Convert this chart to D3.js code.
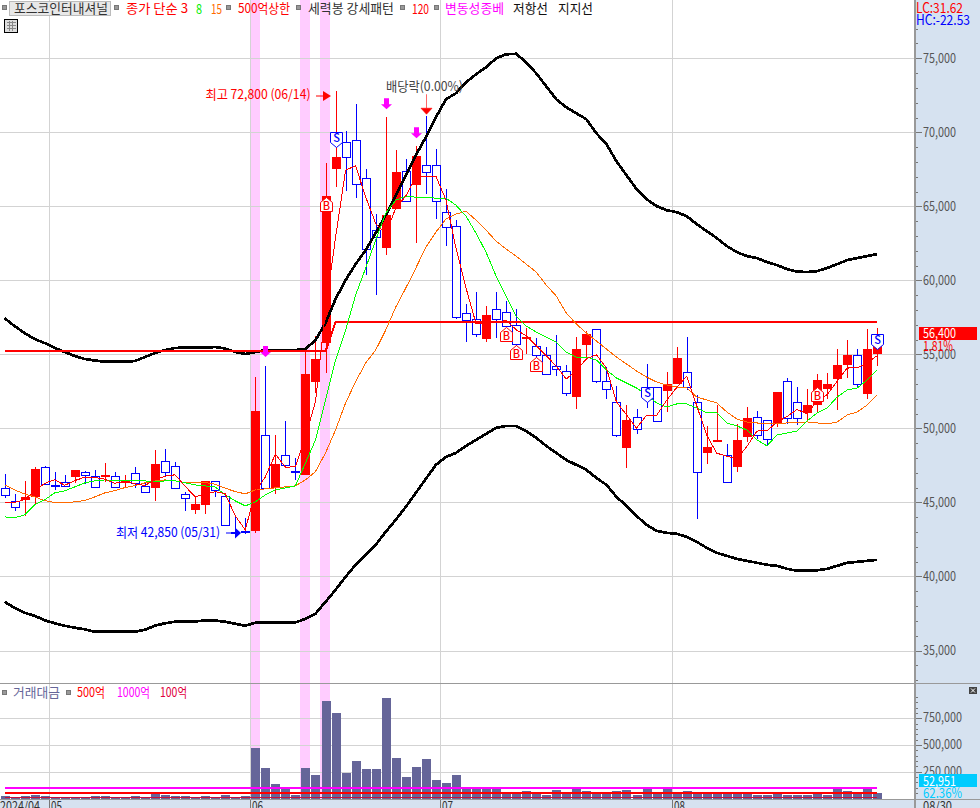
<!DOCTYPE html>
<html>
<head>
<meta charset="utf-8">
<script src="https://cdn.jsdelivr.net/npm/d3@7"></script>
<style>
html,body{margin:0;padding:0;background:#fff;overflow:hidden}
svg{display:block}
text{font-family:"Noto Sans CJK KR","Liberation Sans",sans-serif}
</style>
</head>
<body>
<svg id="c" width="980" height="808"></svg>
<script>
const opens=[45960,45090,45170,45360,47380,46190,46410,46750,47080,46810,46750,46810,46340,47020,46100,46000,47820,47450,45580,44500,44860,46440,45420,43000,43050,43040,49540,45960,48190,47100,46860,53160,55750,67530,69350,69450,66900,63370,62180,64810,67380,66450,67760,67760,64590,63660,57770,57370,56040,58040,57840,56960,56060,55550,54940,54200,53860,52150,55660,56690,53180,51770,48700,50750,52820,52780,52550,53000,53790,51770,48370,49150,48190,47420,49450,50750,50550,50350,53180,51770,51030,51600,52640,53360,54300,54940,52350,55000];
const highs=[46930,45580,46460,47380,47470,47060,46860,47180,47130,47200,47670,47080,46860,47400,46300,48550,48620,47740,45730,45400,46460,46460,45510,44110,43960,53500,54220,49560,50500,48010,55300,56240,67920,72800,70070,71900,67510,64470,71040,68790,68190,69080,71110,68860,66160,64070,58400,59210,58270,59210,58620,58060,56800,56110,55520,56310,54280,56190,56600,56690,54130,52870,51580,51290,54350,52800,53830,55520,56190,52260,50170,51580,48950,50300,51450,51180,50570,52460,53430,52800,52660,53680,53740,55360,55970,55340,56690,56760];
const lows=[45310,44450,44110,44840,46190,45850,46030,46300,46250,46000,46390,46000,46000,46000,45670,45110,46790,45960,44450,44230,44230,45400,43470,42900,42850,42930,45920,45580,47330,46520,46860,52390,53760,66320,66050,65570,60360,59010,61710,64810,65350,62520,65820,64160,62330,57410,55840,56150,55860,56110,56850,55520,55030,54510,53660,53540,52210,51310,54620,53050,52010,49400,47350,49610,51400,50490,51130,53000,52600,43910,47600,49110,46410,47060,49090,49290,48870,50080,50300,50240,50460,51130,51970,51250,53410,52780,51970,54240];
const closes=[45510,44680,45380,47250,46230,46140,46100,47180,46840,46030,46840,46030,46440,46300,45690,47600,47040,45960,45290,44900,46460,45830,43470,42980,43000,51180,46000,47600,47560,47050,53680,54690,65690,68320,68340,66540,62090,62940,64390,67310,65370,68390,67330,65370,63620,57540,57340,56360,57660,57370,56940,55680,56170,54940,53660,53990,52370,55360,56380,53180,52640,49540,50570,49950,52150,50530,53000,54760,52820,47040,48750,49200,46410,49220,50710,49540,49270,52460,50690,50690,51570,53270,53000,54280,54960,53020,55340,56400];
const ma3=[45000,45000,45190,45770,46287,46540,46157,46473,46707,46683,46570,46300,46437,46257,46143,46530,46777,46867,46097,45383,45550,45730,45587,44093,43150,45720,46727,48260,47387,47403,49430,51807,58020,62900,67450,67733,65640,63840,63130,64887,65697,67023,67030,67030,65440,62177,59500,57080,57120,57130,57323,56663,56263,55597,54923,54197,53340,53907,54703,54973,54067,51787,50917,50020,50890,50877,51893,52763,53527,51540,49537,48330,48120,47943,48780,49823,49840,50423,50807,51280,50983,51843,52280,53183,54080,54087,54440,54920];
const ma8=[44028,43960,44162,44837,45174,45646,45781,46051,46321,46456,46524,46456,46456,46456,46456,46388,46456,46456,46321,46186,46119,46051,45511,45106,44769,45039,45511,45849,45984,46119,47671,49223,51922,54621,56646,59007,60829,62719,64541,65418,65688,65620,65620,65553,65553,65080,64338,63191,61909,60290,58940,57590,56915,56511,56173,55836,55161,54823,54823,54621,53946,53407,53069,52732,52260,51720,51450,51652,51652,51382,51045,51045,50370,50168,49898,49223,48818,49560,49695,49830,50505,51045,51382,52124,52596,52732,53272,53946];
const ma15=[46186,45849,45579,45376,45127,44992,44972,45039,45127,45376,45646,45802,46004,46139,46321,46456,46524,46456,46341,46321,46341,46233,45963,45734,45579,45849,45916,45984,46051,46119,46524,47084,48346,49898,51720,53157,54419,55296,56646,58197,59480,60829,62247,63259,64136,64473,64676,64068,63394,62651,62112,61639,61099,60560,59682,58940,57793,57050,56443,55903,55363,54823,54351,53879,53474,53136,52934,52799,52732,52124,51922,51720,51112,50640,50437,50370,50303,50303,50370,50370,50437,50370,50303,50437,50910,51112,51585,52259];
const upperBand=[57455,56915,56443,56038,55768,55431,55161,54891,54689,54588,54506,54506,54506,54553,54824,55094,55296,55431,55465,55465,55465,55498,55397,55161,55026,55161,55296,55296,55296,55296,55363,55971,57118,58738,60020,61099,62044,63191,64406,65755,67105,68455,69669,71019,72233,72638,73381,73920,74393,75000,75270,75304,74730,73988,73111,72233,71694,71289,70884,69939,69197,68050,67105,66160,65486,65013,64743,64608,64338,63798,63326,62854,62314,61909,61639,61504,61234,61032,60762,60594,60560,60627,60830,61099,61369,61504,61639,61774];
const lowerBand=[38290,37886,37548,37346,37043,36841,36672,36537,36436,36267,36267,36267,36267,36267,36402,36672,36841,36941,36941,36962,37029,37029,36941,36807,36672,36874,36894,36894,36894,36894,37144,37482,38290,39101,39978,40788,41463,42138,43015,43824,44702,45647,46591,47536,48076,48346,48818,49223,49628,50033,50168,50168,49830,49358,48818,48346,47873,47536,47198,46659,46186,45376,44769,44094,43487,43083,42948,42880,42678,42340,41935,41598,41395,41193,41058,40923,40788,40720,40518,40383,40383,40417,40518,40720,40923,40990,41058,41125];
const volumes=[21800,9400,21800,31200,21800,9400,9400,9400,9400,21800,21800,9400,9400,21800,9400,43700,31200,21800,21800,9400,21800,9400,31200,9400,21800,471000,284000,134000,100000,31200,284000,218500,911000,799000,237000,350000,275000,275000,939000,378000,200000,293000,368000,172000,144000,218500,106000,103000,87400,87400,46800,46800,68700,46800,34300,78000,46800,96800,68700,46800,46800,68700,78000,34300,96800,46800,87400,46800,68700,46800,46800,46800,46800,46800,46800,34300,34300,46800,34300,34300,34300,46800,34300,96800,68700,46800,87400,52951];

const resistBefore=55200, resistAfter=57200, resistSwitch=33;
const volLines=[{v:100000,c:"#ff00ff",w:2},{v:50000,c:"#ff0000",w:2},{v:10000,c:"#c8103c",w:1}];
const bandIndex=[25,30,32];
const monthStarts=[4.4,24.5,43.4,66.5];
const monthLabels=["05","06","07","08"];
const priceTicks=[35000,40000,45000,50000,55000,60000,65000,70000,75000];
const volTicks=[250000,500000,750000];
const buyIdx=[32,50,51,53,81], buyPrice=[65620,56868,55634,54843,52819];
const sellIdx=[33,64,87], sellPrice=[68994,51787,55364];
const fatArrowIdx=[26,38,41], fatArrowPrice=[54824,71559,69602];
const redArrowIdx=[42], redArrowPrice=[71221];

const svg=d3.select("#c");
const x=d3.scaleLinear().domain([0,87]).range([4.5,877.3]);
const y=d3.scaleLinear().domain([35000,75000]).range([650.5,58.3]);
const yv=d3.scaleLinear().domain([0,1000000]).range([798.3,691.5]);
const px=i=>Math.round(x(i));

function txt(s,xx,cy,w,fill,size,weight,anchor){
  const t=svg.append("text").attr("x",xx).attr("y",cy+size*0.36).attr("fill",fill)
    .attr("font-size",size).text(s);
  if(w){t.attr("textLength",w).attr("lengthAdjust","spacingAndGlyphs");}
  if(weight)t.attr("font-weight",weight);
  if(anchor)t.attr("text-anchor",anchor);
  return t;
}
const fmt=d3.format(",");

// pink bands
svg.append("g").attr("shape-rendering","crispEdges").selectAll("rect").data(bandIndex).join("rect")
  .attr("x",d=>Math.floor(x(d))-5).attr("y",0).attr("width",10).attr("height",799).attr("fill","#ffccff");

// grid
const grid=svg.append("g").attr("stroke","#d3d3d3").attr("stroke-width",1).attr("shape-rendering","crispEdges");
grid.selectAll("line.h").data(priceTicks).join("line").attr("class","h")
  .attr("x1",0).attr("x2",915).attr("y1",d=>Math.round(y(d))+.5).attr("y2",d=>Math.round(y(d))+.5);
grid.selectAll("line.hv").data(volTicks).join("line").attr("class","hv")
  .attr("x1",0).attr("x2",915).attr("y1",d=>Math.round(yv(d))+.5).attr("y2",d=>Math.round(yv(d))+.5);
grid.selectAll("line.v").data(monthStarts).join("line").attr("class","v")
  .attr("x1",d=>Math.round(x(d))+.5).attr("x2",d=>Math.round(x(d))+.5).attr("y1",0).attr("y2",799);

// volume bars
svg.append("g").attr("shape-rendering","crispEdges").selectAll("rect").data(volumes).join("rect")
  .attr("x",(d,i)=>px(i)-4).attr("width",9)
  .attr("y",d=>Math.round(yv(d))).attr("height",d=>Math.round(yv(0))-Math.round(yv(d))+1)
  .attr("fill","#656599");

// candles
const idx=d3.range(closes.length);
const cg=svg.append("g").attr("shape-rendering","crispEdges");
const up=i=>closes[i]>=opens[i];
const col=i=>up(i)?"#ff0000":"#0000ff";
cg.selectAll("rect.w").data(idx).join("rect").attr("class","w")
  .attr("x",i=>px(i)).attr("width",1)
  .attr("y",i=>Math.round(y(highs[i])))
  .attr("height",i=>Math.max(1,Math.round(y(lows[i]))-Math.round(y(highs[i]))))
  .attr("fill",col);
cg.selectAll("rect.b").data(idx).join("rect").attr("class","b")
  .each(function(i){
    const t=Math.round(y(Math.max(opens[i],closes[i]))), b=Math.round(y(Math.min(opens[i],closes[i])));
    const s=d3.select(this);
    if(up(i)){
      s.attr("x",px(i)-4).attr("width",9).attr("y",t).attr("height",Math.max(2,b-t)).attr("fill","#ff0000");
    }else if(b-t<2){
      s.attr("x",px(i)-4).attr("width",9).attr("y",t).attr("height",2).attr("fill","#0000ff");
    }else{
      s.attr("x",px(i)-3.5).attr("width",8).attr("y",t+.5).attr("height",b-t).attr("fill","#fff").attr("stroke","#0000ff");
    }
  });

// lines
const line=d3.line().x((d,i)=>x(i)).y(d=>y(d));
function path(data,c,w){
  svg.append("path").datum(data).attr("d",line).attr("fill","none").attr("stroke",c).attr("stroke-width",w).attr("shape-rendering","crispEdges");
}
path(upperBand,"#000",2.7);
path(lowerBand,"#000",2.7);
path(idx.map(i=>i<resistSwitch?resistBefore:resistAfter),"#ff0000",2);
path(ma15,"#ff6a00",1);
path(ma8,"#00ff00",1);
path(ma3,"#ff0000",1);

// volume threshold lines
svg.append("g").attr("shape-rendering","crispEdges").selectAll("line").data(volLines).join("line")
  .attr("x1",x(0)).attr("x2",x(87)).attr("y1",d=>yv(d.v)).attr("y2",d=>yv(d.v))
  .attr("stroke",d=>d.c).attr("stroke-width",d=>d.w);

// fat arrows
svg.append("g").selectAll("path").data(fatArrowIdx).join("path")
  .attr("fill","#ff00ff")
  .attr("d",(d,k)=>{const c=px(d)+.5,t=y(fatArrowPrice[k]);return `M${c-2.5},${t-11}H${c+2.5}V${t-5}H${c+5.5}L${c},${t}L${c-5.5},${t-5}H${c-2.5}Z`;});
svg.append("g").selectAll("path").data(redArrowIdx).join("path")
  .attr("fill","#ff0000").attr("stroke","#ff0000").attr("stroke-width",0.6)
  .attr("d",(d,k)=>{const c=px(d)+.5,t=y(redArrowPrice[k]);return `M${c},${t-20}V${t-6}M${c-5.5},${t-6}H${c+5.5}L${c},${t}Z`;});

// buy markers
buyIdx.forEach((d,k)=>{
  const c=px(d)+.5,t=Math.round(y(buyPrice[k]))+.5;
  svg.append("path").attr("d",`M${c},${t}L${c+6},${t+5}V${t+14}H${c-6}V${t+5}Z`).attr("fill","#fff").attr("stroke","#ff0000");
  txt("B",c,t+9,0,"#ff0000",11,500,"middle");
});
// sell markers
sellIdx.forEach((d,k)=>{
  const c=px(d)+.5,b=Math.round(y(sellPrice[k]))+.5;
  svg.append("path").attr("d",`M${c},${b}L${c+6},${b-5}V${b-15}H${c-6}V${b-5}Z`).attr("fill","#fff").attr("stroke","#0000ff");
  txt("S",c,b-9,0,"#0000ff",11,500,"middle");
});

// high / low annotations
svg.append("path").attr("d","M316,96H323").attr("stroke","#ff0000").attr("fill","none");
svg.append("path").attr("d","M323,91L331,96L323,101Z").attr("fill","#ff0000");
svg.append("path").attr("d","M226,533H235").attr("stroke","#0000ff").attr("fill","none");
svg.append("path").attr("d","M235,527.5L241,533L235,538.5Z").attr("fill","#0000ff");
txt("최고 72,800 (06/14)",205.5,94,105,"#ff0000",13);
txt("최저 42,850 (05/31)",116,532,104,"#0000ff",13);
txt("배당락(0.00%)",386,86,77,"#444",13);

// right panel
svg.append("rect").attr("x",915).attr("y",0).attr("width",65).attr("height",808).attr("fill","#d6e2f0");
svg.append("rect").attr("x",0).attr("y",800).attr("width",980).attr("height",8).attr("fill","#d6e2f0");
svg.append("rect").attr("x",914).attr("y",0).attr("width",2).attr("height",808).attr("fill","#999");
svg.append("rect").attr("x",0).attr("y",683).attr("width",980).attr("height",1).attr("fill","#999");
svg.append("rect").attr("x",0).attr("y",799).attr("width",980).attr("height",1).attr("fill","#999");

// axes
const priceAxis=d3.axisRight(y).tickValues(d3.range(33000,78000,1000)).tickSize(2).tickFormat("");
const gA=svg.append("g").attr("transform","translate(915.5,0)").attr("shape-rendering","crispEdges").call(priceAxis);
gA.select(".domain").remove(); gA.selectAll("line").attr("stroke","#777");
const gMaj=svg.append("g").attr("transform","translate(915.5,0)").attr("shape-rendering","crispEdges").call(d3.axisRight(y).tickValues(priceTicks).tickSize(6).tickFormat(""));
gMaj.select(".domain").remove(); gMaj.selectAll("line").attr("stroke","#777");
priceTicks.forEach(v=>txt(fmt(v),923,y(v)-0.5,33,"#555",14));

const gVm=svg.append("g").attr("transform","translate(915.5,0)").attr("shape-rendering","crispEdges").call(d3.axisRight(yv).tickValues(d3.range(50000,1000000,50000)).tickSize(2).tickFormat(""));
gVm.select(".domain").remove(); gVm.selectAll("line").attr("stroke","#777");
const gV=svg.append("g").attr("transform","translate(915.5,0)").attr("shape-rendering","crispEdges").call(d3.axisRight(yv).tickValues(volTicks).tickSize(6).tickFormat(""));
gV.select(".domain").remove(); gV.selectAll("line").attr("stroke","#777");
volTicks.forEach(v=>txt(fmt(v),923,yv(v)-1,39,"#555",14));

// last value boxes
svg.append("rect").attr("x",919).attr("y",327).attr("width",58).attr("height",13).attr("fill","#ff0000");
txt(fmt(closes[87]),923,333,33,"#fff",14);
txt("1.81%",923,345.5,30,"#ff0000",14);
svg.append("rect").attr("x",919).attr("y",774).attr("width",58).attr("height",13).attr("fill","#00ccff");
txt(fmt(volumes[87]),923,780.5,33,"#fff",14);
txt("62.36%",923,792.5,39,"#00ccff",14);
txt("LC:31.62",916,7.5,47,"#ff0000",14);
txt("HC:-22.53",916,19.5,54,"#0000ff",14);

// close icon
svg.append("rect").attr("x",969).attr("y",687).attr("width",8).attr("height",7).attr("fill","#444");
svg.append("path").attr("d","M971,688.5L975,692.5M975,688.5L971,692.5").attr("stroke","#fff").attr("stroke-width",1);

// month labels
txt("2024/04",0,806.5,40,"#333",13);
monthLabels.forEach((m,k)=>{
  const xx=Math.round(x(monthStarts[k]))+2;
  txt(m,xx,806.5,11,"#333",13);
  svg.append("rect").attr("x",xx-2).attr("y",800).attr("width",1).attr("height",8).attr("fill","#777");
});
txt("08/30",923,806.5,29,"#333",13);

// legend squares
const squares=[[2,5],[114,5],[226,5],[296,5],[400,5],[434,5],[2,690],[66,690]];
svg.append("g").selectAll("rect").data(squares).join("rect")
  .attr("x",d=>d[0]+.5).attr("y",d=>d[1]+.5).attr("width",4).attr("height",4)
  .attr("fill","#999").attr("stroke","#777").attr("shape-rendering","crispEdges");

// legend
svg.append("rect").attr("x",9.5).attr("y",1.5).attr("width",101).attr("height",14).attr("fill","#e8e8e8").attr("stroke","#bbb");
txt("포스코인터내셔널",14,8.5,94,"#333",13);
txt("종가 단순 3",126,8.5,62,"#ff0000",13);
txt("8",196,8.5,6,"#00ee00",14);
txt("15",211,8.5,11,"#ff6a00",14);
txt("500억상한",238,8.5,52,"#ff0000",13);
txt("세력봉 강세패턴",308,8.5,86,"#333",13);
txt("120",412,8.5,17,"#ff0000",14);
txt("변동성종베",445,8.5,59,"#ff00ff",13);
txt("저항선",513,8.5,35,"#111",13);
txt("지지선",558,8.5,35,"#111",13);
txt("거래대금",13,692,47,"#666699",13);
txt("500억",77,692,28,"#ff0000",13);
txt("1000억",117,692,33,"#ff00ff",13);
txt("100억",160,692,27,"#e0003c",13);

// table icon
svg.append("rect").attr("x",4.5).attr("y",19.5).attr("width",13).attr("height",13).attr("fill","#ddd").attr("stroke","#000");
svg.append("path").attr("d","M6.5,22.5H15.5M6.5,25.5H15.5M6.5,28.5H15.5M9.5,21V31M12.5,21V31").attr("stroke","#888").attr("fill","none").attr("shape-rendering","crispEdges");
</script>
</body>
</html>
